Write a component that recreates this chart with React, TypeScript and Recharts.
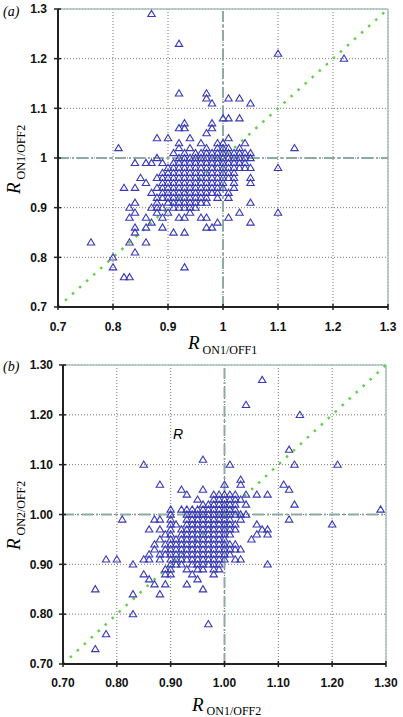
import { ScatterChart, Scatter, XAxis, YAxis, CartesianGrid, ReferenceLine } from 'recharts';

// tick values shared by both panels
const ticks = [0.7, 0.8, 0.9, 1, 1.1, 1.2, 1.3];

// panel (a): R ON1/OFF1 (x) vs R ON1/OFF2 (y), in hundredths, one row per y value
const rowsA = [
  { y: 129, x: [87] },
  { y: 123, x: [92] },
  { y: 121, x: [110] },
  { y: 120, x: [122] },
  { y: 113, x: [92, 97] },
  { y: 112, x: [97, 101, 103] },
  { y: 111, x: [98, 105] },
  { y: 108, x: [100, 101, 103] },
  { y: 107, x: [93, 98] },
  { y: 106, x: [92, 93, 98] },
  { y: 105, x: [97] },
  { y: 104, x: [88, 90, 94, 101] },
  { y: 103, x: [92, 96, 99, 100, 104] },
  { y: 102, x: [81, 92, 94, 97, 99, 100, 101, 103, 113] },
  { y: 101, x: [91, 93, 95, 96, 97, 98, 99, 100, 101, 102, 103, 104, 105] },
  { y: 100, x: [88, 92, 93, 94, 95, 96, 97, 98, 99, 100, 101, 102, 103, 104, 105] },
  { y: 99, x: [84, 86, 87, 89, 91, 92, 93, 94, 95, 96, 97, 98, 99, 100, 101, 102, 103, 104] },
  { y: 98, x: [90, 91, 92, 93, 94, 95, 96, 97, 98, 99, 100, 101, 102, 103, 104, 105, 110] },
  { y: 97, x: [89, 90, 91, 92, 93, 94, 95, 96, 97, 98, 99, 100, 101, 102] },
  { y: 96, x: [85, 88, 89, 90, 91, 92, 93, 94, 95, 96, 97, 98, 99, 100, 101, 102, 105] },
  { y: 95, x: [86, 89, 90, 91, 92, 93, 94, 95, 96, 97, 98, 99, 100, 102, 105] },
  { y: 94, x: [82, 84, 88, 89, 90, 91, 92, 93, 94, 95, 96, 97, 98, 99, 100, 102] },
  { y: 93, x: [87, 89, 90, 91, 92, 93, 94, 95, 96, 97, 98, 99, 101] },
  { y: 92, x: [88, 89, 90, 91, 92, 93, 94, 95, 96, 97, 99, 101] },
  { y: 91, x: [84, 88, 90, 91, 92, 93, 94, 95, 96, 97, 105] },
  { y: 90, x: [83, 87, 88, 89, 91, 92, 93, 94, 95] },
  { y: 89, x: [84, 88, 90, 94, 103, 110] },
  { y: 88, x: [83, 86, 89, 92, 93, 96, 97, 101] },
  { y: 87, x: [87, 99, 105] },
  { y: 86, x: [84, 86, 89, 97, 98] },
  { y: 85, x: [84, 91, 93] },
  { y: 83, x: [76, 83, 86] },
  { y: 81, x: [84] },
  { y: 80, x: [80] },
  { y: 78, x: [80, 93] },
  { y: 76, x: [82, 83] },
];

// panel (b): R ON1/OFF2 (x) vs R ON2/OFF2 (y)
const rowsB = [
  { y: 127, x: [107] },
  { y: 122, x: [104] },
  { y: 120, x: [114] },
  { y: 113, x: [112] },
  { y: 111, x: [96] },
  { y: 110, x: [85, 101, 113, 121] },
  { y: 107, x: [103] },
  { y: 106, x: [88, 100, 103, 111] },
  { y: 105, x: [92, 96, 112] },
  { y: 104, x: [93, 98, 99, 100, 101, 102, 104, 106, 108] },
  { y: 103, x: [95, 98, 99, 100, 101, 102, 103] },
  { y: 102, x: [96, 97, 98, 99, 100, 101, 102, 104, 113] },
  { y: 101, x: [90, 92, 93, 94, 95, 96, 97, 98, 99, 100, 101, 102, 129] },
  { y: 100, x: [90, 93, 94, 95, 96, 97, 98, 99, 100, 101, 102, 103, 104] },
  { y: 99, x: [81, 87, 88, 90, 93, 94, 95, 96, 97, 98, 99, 100, 101, 103, 112] },
  { y: 98, x: [90, 91, 93, 94, 95, 96, 97, 98, 99, 100, 101, 102, 106, 120] },
  { y: 97, x: [86, 88, 90, 92, 93, 94, 95, 96, 97, 98, 99, 100, 101, 102, 107, 108] },
  { y: 96, x: [89, 90, 92, 93, 94, 95, 96, 97, 98, 99, 100, 101, 106, 108] },
  { y: 95, x: [88, 90, 91, 92, 93, 94, 95, 96, 97, 98, 99, 100, 105] },
  { y: 94, x: [87, 89, 90, 91, 92, 93, 94, 95, 96, 97, 98, 99, 100, 101, 102] },
  { y: 93, x: [87, 89, 90, 91, 92, 93, 94, 95, 96, 97, 98, 99, 100, 101, 102, 103] },
  { y: 92, x: [86, 88, 89, 90, 91, 92, 93, 94, 95, 96, 97, 98, 99, 100, 101] },
  { y: 91, x: [78, 80, 85, 86, 88, 90, 91, 92, 93, 94, 95, 96, 97, 98, 99, 100, 102, 103] },
  { y: 90, x: [83, 90, 91, 92, 94, 95, 96, 97, 98, 99, 108] },
  { y: 89, x: [89, 90, 93, 95, 96, 98, 99] },
  { y: 88, x: [85, 89, 90, 94, 98] },
  { y: 87, x: [86, 95] },
  { y: 86, x: [87, 89, 93] },
  { y: 85, x: [76, 96] },
  { y: 84, x: [83, 88] },
  { y: 80, x: [83] },
  { y: 78, x: [97] },
  { y: 76, x: [78] },
  { y: 73, x: [76] },
];

const toPoints = (rows: { y: number; x: number[] }[]) =>
  rows.flatMap((r) => r.x.map((x) => ({ x: x / 100, y: r.y / 100 })));

const AXIS = '#222';
const TICK_FONT = { fontFamily: 'Liberation Sans, Arial, sans-serif', fontWeight: 700, fontSize: 12, fill: '#111' };

const Tri = ({ cx, cy }: any) => (
  <polygon
    points={`${cx},${cy - 3.6} ${cx - 3.7},${cy + 2.6} ${cx + 3.7},${cy + 2.6}`}
    fill="none"
    stroke="#3838b8"
    strokeWidth={1.1}
  />
);

const XTick = ({ x, y, payload, fmt, gap }: any) => {
  const ay = y - gap;
  return (
    <g>
      <line x1={x} x2={x} y1={ay - 3} y2={ay + 3} stroke={AXIS} strokeWidth={1.5} />
      <text x={x} y={y} textAnchor="middle" {...TICK_FONT}>{fmt(payload.value)}</text>
    </g>
  );
};

const YTick = ({ x, y, payload, fmt, gap }: any) => {
  const ax = x + gap;
  return (
    <g>
      <line x1={ax - 4} x2={ax + 3} y1={y} y2={y} stroke={AXIS} strokeWidth={1.5} />
      <text x={x} y={y + 4.3} textAnchor="end" {...TICK_FONT}>{fmt(payload.value)}</text>
    </g>
  );
};

function Panel({ rows, fmt, height, margin, yWidth, xHeight, xGap, yGap }: any) {
  const data = toPoints(rows);
  return (
    <ScatterChart width={403} height={height} margin={margin}>
      <CartesianGrid stroke="#777" strokeDasharray="1 2" horizontalValues={ticks} verticalValues={ticks} />
      <XAxis
        type="number"
        dataKey="x"
        domain={[0.7, 1.3]}
        ticks={ticks}
        allowDataOverflow
        height={xHeight}
        tickSize={0}
        tickMargin={xGap}
        tickLine={false}
        axisLine={{ stroke: AXIS, strokeWidth: 2 }}
        tick={(p: any) => <XTick {...p} fmt={fmt} gap={xGap} />}
        interval={0}
      />
      <YAxis
        type="number"
        dataKey="y"
        domain={[0.7, 1.3]}
        ticks={ticks}
        allowDataOverflow
        width={yWidth}
        tickSize={0}
        tickMargin={yGap}
        tickLine={false}
        axisLine={{ stroke: AXIS, strokeWidth: 2 }}
        tick={(p: any) => <YTick {...p} fmt={fmt} gap={yGap} />}
        interval={0}
      />
      <ReferenceLine y={1.3} stroke="#a9c2bb" strokeWidth={1.5} />
      <ReferenceLine x={1.3} stroke="#a9c2bb" strokeWidth={1.5} />
      <ReferenceLine x={1} stroke="#8eaaa4" strokeWidth={2} strokeDasharray="11 3 2 3" />
      <ReferenceLine y={1} stroke="#8eaaa4" strokeWidth={2} strokeDasharray="11 3 2 3" />
      <Scatter data={data} shape={(p: any) => <Tri cx={p.cx} cy={p.cy} />} isAnimationActive={false} />
      <ReferenceLine
        segment={[{ x: 0.7, y: 0.7 }, { x: 1.3, y: 1.3 }]}
        stroke="#5fd04a"
        strokeWidth={2.5}
        strokeDasharray="2.5 7"
      />
    </ScatterChart>
  );
}

const serif = 'Liberation Serif, Times New Roman, serif';

export default function App() {
  return (
    <div style={{ position: 'absolute', left: 0, top: 0, width: 403, height: 717, background: '#fff' }}>
      <div style={{ position: 'absolute', left: 0, top: 0 }}>
        <Panel
          rows={rowsA}
          fmt={(v: number) => String(v)}
          height={355}
          margin={{ top: 9, right: 15, bottom: 0, left: 0 }}
          yWidth={58}
          xHeight={48}
          xGap={24}
          yGap={11}
        />
      </div>
      <div style={{ position: 'absolute', left: 0, top: 355 }}>
        <Panel
          rows={rowsB}
          fmt={(v: number) => v.toFixed(2)}
          height={362}
          margin={{ top: 10, right: 17, bottom: 0, left: 0 }}
          yWidth={63}
          xHeight={53}
          xGap={23}
          yGap={10}
        />
      </div>
      <svg width={403} height={717} style={{ position: 'absolute', left: 0, top: 0, pointerEvents: 'none' }}>
        <text x={3} y={16} fontFamily={serif} fontStyle="italic" fontSize={14}>(a)</text>
        <text x={3} y={371} fontFamily={serif} fontStyle="italic" fontSize={14}>(b)</text>
        <text x={188} y={349} fontFamily={serif}>
          <tspan fontStyle="italic" fontSize={19}>R</tspan>
          <tspan fontSize={12} dx={3} dy={5}>ON1/OFF1</tspan>
        </text>
        <text transform="translate(20,194) rotate(-90)" fontFamily={serif}>
          <tspan fontStyle="italic" fontSize={19}>R</tspan>
          <tspan fontSize={12} dx={3} dy={5}>ON1/OFF2</tspan>
        </text>
        <text x={192} y={711} fontFamily={serif}>
          <tspan fontStyle="italic" fontSize={19}>R</tspan>
          <tspan fontSize={12} dx={3} dy={4}>ON1/OFF2</tspan>
        </text>
        <text transform="translate(20,550) rotate(-90)" fontFamily={serif}>
          <tspan fontStyle="italic" fontSize={19}>R</tspan>
          <tspan fontSize={12} dx={3} dy={5}>ON2/OFF2</tspan>
        </text>
        <text x={173} y={439} fontFamily="Liberation Sans, Arial, sans-serif" fontStyle="italic" fontSize={14}>R</text>
      </svg>
    </div>
  );
}
